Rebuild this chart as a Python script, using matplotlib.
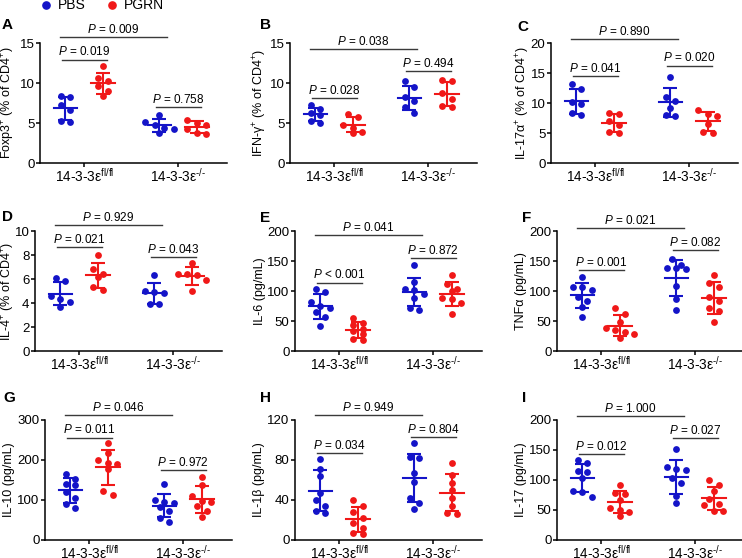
import matplotlib
matplotlib.use('Agg')
import matplotlib.pyplot as plt
from matplotlib.lines import Line2D
import numpy as np

plt.rcParams['font.family'] = ['Liberation Sans', 'DejaVu Sans']
plt.rcParams['mathtext.fontset'] = 'custom'
plt.rcParams['mathtext.rm'] = 'Liberation Sans'
plt.rcParams['mathtext.it'] = 'Liberation Sans:italic'
plt.rcParams['mathtext.bf'] = 'Liberation Sans:bold'

# groups: PBS fl/fl, PGRN fl/fl, PBS -/-, PGRN -/-
groups = ['14-3-3ε$^{\\text{fl/fl}}$', '14-3-3ε$^{\\text{-/-}}$']
conditions = ['PBS', 'PGRN']

foxp3 = [[8.4, 8.2, 7.3, 6.6, 5.3, 5.1],
         [12.1, 10.6, 10.2, 9.6, 9.0, 8.4],
         [6.0, 5.1, 4.8, 4.4, 4.3, 3.7],
         [5.4, 5.0, 4.8, 4.3, 3.8, 3.6]]
ifng = [[7.2, 6.7, 6.3, 6.0, 5.3, 5.0],
        [6.1, 5.7, 4.7, 4.4, 3.9, 3.8],
        [10.2, 9.5, 8.3, 7.7, 7.0, 6.2],
        [10.4, 10.2, 8.8, 8.0, 7.1, 7.0]]
il17a = [[13.2, 12.4, 10.1, 9.8, 8.3, 8.0],
         [8.3, 8.2, 7.0, 6.3, 5.2, 5.0],
         [14.3, 11.0, 10.3, 9.1, 8.0, 7.9],
         [8.9, 8.2, 7.9, 6.5, 5.2, 5.0]]
il4 = [[6.1, 5.8, 4.6, 4.3, 4.1, 3.7],
       [8.0, 6.8, 6.4, 6.2, 5.3, 5.1],
       [6.3, 5.0, 4.9, 4.8, 3.9, 3.9],
       [7.3, 6.4, 6.4, 6.3, 5.9, 5.0]]
il6 = [[103, 99, 82, 75, 72, 65, 56, 42],
       [55, 47, 44, 36, 33, 28, 20, 19],
       [143, 115, 104, 101, 95, 88, 72, 69],
       [126, 112, 104, 100, 88, 86, 80, 62]]
tnfa = [[123, 107, 106, 101, 90, 84, 74, 56],
        [72, 62, 49, 38, 35, 31, 29, 21],
        [153, 143, 139, 139, 137, 108, 86, 68],
        [127, 114, 107, 90, 84, 71, 67, 49]]
il10 = [[165, 153, 140, 137, 120, 106, 90, 80],
        [242, 217, 200, 192, 190, 178, 123, 113],
        [139, 101, 95, 93, 82, 72, 56, 46],
        [158, 137, 110, 98, 96, 84, 72, 58]]
il1b = [[81, 71, 64, 47, 40, 34, 29, 27],
        [40, 34, 28, 22, 17, 12, 7, 6],
        [97, 83, 82, 67, 58, 42, 37, 31],
        [77, 65, 57, 50, 42, 34, 27, 26]]
il17 = [[134, 128, 115, 114, 104, 80, 81, 72],
        [92, 78, 76, 66, 53, 50, 46, 40],
        [152, 121, 119, 116, 104, 95, 74, 62],
        [100, 91, 82, 69, 60, 58, 48, 48]]

# p values: fl/fl pair, -/- pair, PBS fl/fl vs PBS -/-
p_A = ['= 0.019', '= 0.758', '= 0.009']
p_B = ['= 0.028', '= 0.494', '= 0.038']
p_C = ['= 0.041', '= 0.020', '= 0.890']
p_D = ['= 0.021', '= 0.043', '= 0.929']
p_E = ['< 0.001', '= 0.872', '= 0.041']
p_F = ['= 0.001', '= 0.082', '= 0.021']
p_G = ['= 0.011', '= 0.972', '= 0.046']
p_H = ['= 0.034', '= 0.804', '= 0.949']
p_I = ['= 0.012', '= 0.027', '= 1.000']

BLUE = '#1414c8'
RED = '#f01818'
W, H = 742, 558
AX_W, AX_H = 187, 120
UNIT_PX = 94.0

fig = plt.figure(figsize=(W / 100, H / 100), dpi=100)

# letter, data, ylabel, ymax, step, pvals, bar heights,
# axis left px, axis top px, letter pos, ylabel centre x px
panels = [
    ('A', foxp3, 'Foxp3$^{+}$ (% of CD4$^{+}$)', 15, 5, p_A, (12.9, 7.0, 15.7), 40, 43, (2, 25), 8),
    ('B', ifng, 'IFN-γ$^{+}$ (% of CD4$^{+}$)', 15, 5, p_B, (8.1, 11.5, 14.2), 290, 43, (260, 25), 260),
    ('C', il17a, 'IL-17α$^{+}$ (% of CD4$^{+}$)', 20, 5, p_C, (14.5, 16.2, 20.6), 551, 43, (517, 27), 523),
    ('D', il4, 'IL-4$^{+}$ (% of CD4$^{+}$)', 10, 2, p_D, (8.67, 7.8, 10.5), 35, 231, (2, 217), 8),
    ('E', il6, 'IL-6 (pg/mL)', 200, 50, p_E, (114, 155, 193), 295, 231, (260, 218), 260),
    ('F', tnfa, 'TNFα (pg/mL)', 200, 50, p_F, (135, 168, 205), 557, 231, (522, 218), 521),
    ('G', il10, 'IL-10 (pg/mL)', 300, 100, p_G, (256, 174, 312), 45, 420, (3, 398), 9),
    ('H', il1b, 'IL-1β (pg/mL)', 120, 40, p_H, (87, 103, 124.7), 295, 420, (260, 398), 259),
    ('I', il17, 'IL-17 (pg/mL)', 200, 50, p_I, (143, 170, 206), 557, 420, (522, 398), 521),
]


def swarm(vals, ymax, d_px=9.5):
    # spread dots of similar value side by side
    vals = np.asarray(vals, float)
    offs = np.zeros(len(vals))
    rows = []
    for i in np.argsort(-vals):
        ypx = vals[i] / ymax * AX_H
        if rows and abs(rows[-1][0] - ypx) < 6.5:
            rows[-1][1].append(i)
        else:
            rows.append([ypx, [i]])
    for _, idx in rows:
        n = len(idx)
        for k, i in enumerate(idx):
            offs[i] = (k - (n - 1) / 2) * d_px / UNIT_PX
    return offs


xpos = [0.8, 1.2, 1.8, 2.2]
line_kw = dict(color='#3a3a3a', lw=1.0, clip_on=False)

for letter, data, ylabel, ymax, step, pv, bars, left, top, lpos, lab_x in panels:
    ax = fig.add_axes([left / W, 1 - (top + AX_H) / H, AX_W / W, AX_H / H])
    for j, vals in enumerate(data):
        c = BLUE if j % 2 == 0 else RED
        xc = xpos[j]
        ax.scatter(xc + swarm(vals, ymax), vals, s=24, color=c, zorder=3,
                   clip_on=False, linewidths=0)
        m = np.mean(vals)
        sd = np.std(vals, ddof=1)
        ax.plot([xc - 0.125, xc + 0.125], [m, m], color=c, lw=1.5, zorder=4)
        ax.errorbar(xc, m, yerr=sd, fmt='none', ecolor=c, elinewidth=1.5,
                    capsize=4.7, capthick=1.5, zorder=4)

    spans = [(0.76, 1.24), (1.76, 2.24), (0.74, 1.88)]
    for (x0, x1), y, txt in zip(spans, bars, pv):
        ax.plot([x0, x1], [y, y], **line_kw)
        ax.annotate('$\\mathit{P}$ ' + txt, xy=((x0 + x1) / 2, y), xytext=(0, 3.2),
                    textcoords='offset points', ha='center', va='baseline',
                    fontsize=8.5, annotation_clip=False)

    ax.set_xlim(0.53, 2.52)
    ax.set_ylim(0, ymax)
    ax.set_yticks(np.arange(0, ymax + step / 2, step))
    ax.set_xticks([1, 2])
    ax.set_xticklabels(groups, fontsize=9.8)
    ax.tick_params(axis='y', labelsize=9.5, length=3, width=1.1, pad=1)
    ax.tick_params(axis='x', length=3, width=1.1, pad=-0.5)
    ax.set_ylabel(ylabel, fontsize=9, va='center')
    ax.yaxis.set_label_coords(-(left - lab_x) / AX_W, 0.5)
    for s in ['top', 'right']:
        ax.spines[s].set_visible(False)
    for s in ['left', 'bottom']:
        ax.spines[s].set_linewidth(1.1)

    fig.text(lpos[0] / W, 1 - lpos[1] / H, letter, fontsize=11, fontweight='bold',
             ha='left', va='center')

# legend on top
for xp, c, lab in [(46, BLUE, conditions[0]), (112, RED, conditions[1])]:
    fig.add_artist(Line2D([xp / W], [1 - 5 / H], marker='o', markersize=5.2, color=c,
                          linestyle='none', transform=fig.transFigure))
    fig.text((xp + 12) / W, 1 - 9 / H, lab, fontsize=10, ha='left', va='baseline')

fig.savefig('out.png', dpi=100)
